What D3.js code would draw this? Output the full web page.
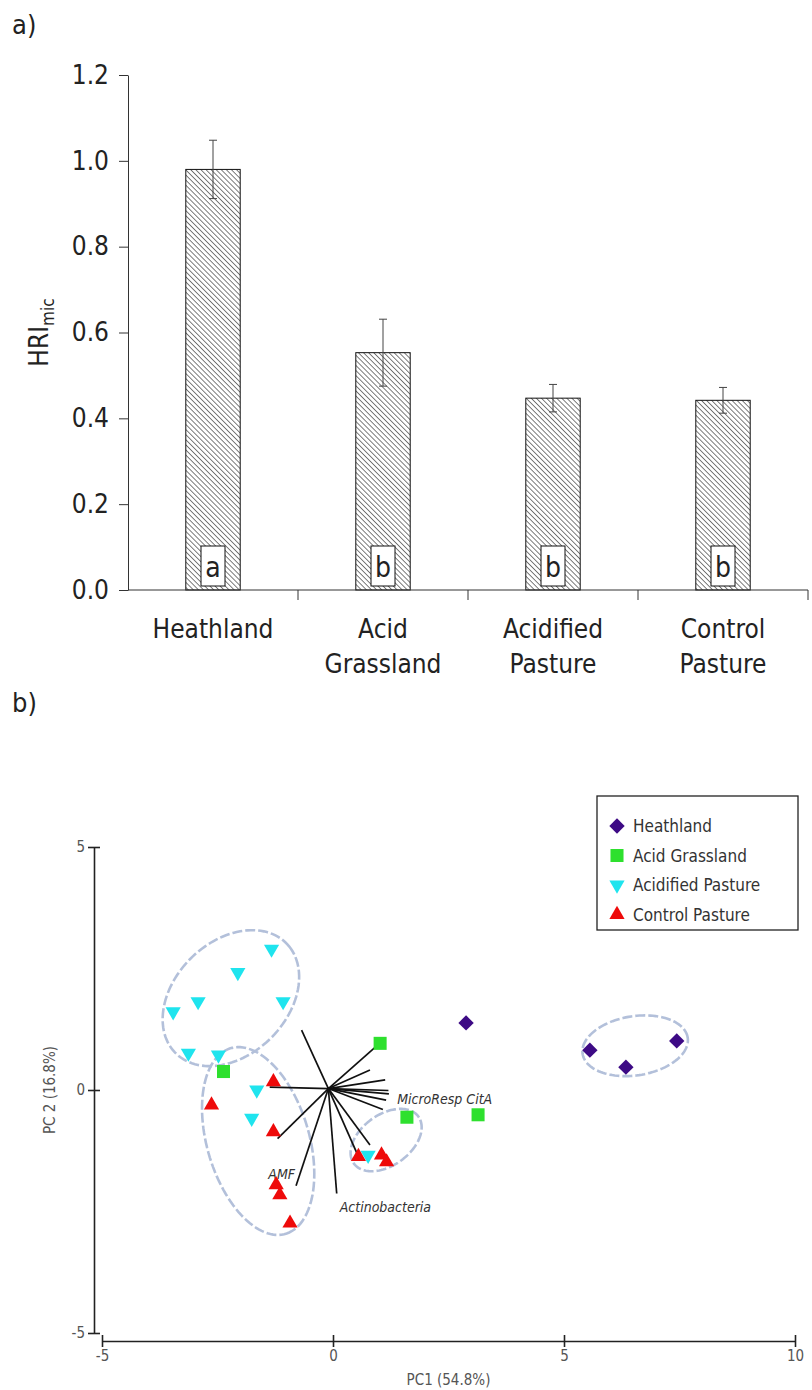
<!DOCTYPE html>
<html>
<head>
<meta charset="utf-8">
<script src="https://cdn.jsdelivr.net/npm/d3@7"></script>
<style>
  body { margin: 0; background: #fff; }
  svg text { font-family: "DejaVu Sans Condensed", "DejaVu Sans", "Open Sans", sans-serif; font-stretch: condensed; }
</style>
</head>
<body>
<svg id="fig" width="812" height="1390"></svg>
<script>
// ---- panel a: HRI mic per site
var sites = ["Heathland", "Acid Grassland", "Acidified Pasture", "Control Pasture"];
var siteLines = [["Heathland"], ["Acid", "Grassland"], ["Acidified", "Pasture"], ["Control", "Pasture"]];
var hriMean = [0.98, 0.553, 0.447, 0.442];
var hriErr = [0.068, 0.078, 0.032, 0.03];
var sigLetters = ["a", "b", "b", "b"];
var yTicksA = [0, 0.2, 0.4, 0.6, 0.8, 1.0, 1.2];

// ---- panel b: PCA scores
var heathPts = [[2.88, 1.38], [5.56, 0.82], [6.34, 0.47], [7.44, 1.01]];
var acidGrassPts = [[-2.37, 0.38], [1.02, 0.96], [1.6, -0.56], [3.14, -0.51]];
var acidifiedPts = [[-1.33, 2.9], [-2.06, 2.42], [-1.08, 1.82], [-2.92, 1.82], [-3.46, 1.61],
                    [-3.13, 0.76], [-2.48, 0.72], [-1.65, 0.0], [-1.76, -0.58], [0.76, -1.34]];
var controlPts = [[-1.29, 0.17], [-2.63, -0.31], [-1.29, -0.86], [0.55, -1.37], [1.05, -1.34],
                  [1.16, -1.48], [-1.23, -1.95], [-1.15, -2.16], [-0.93, -2.74]];
var xTicksB = [-5, 0, 5, 10];
var yTicksB = [-5, 0, 5];

// loading vectors (end points), drawn from the biplot origin
var biplotOrigin = [-0.1, 0.03];
var loadX = [-0.68, 1.13, 0.8, 1.13, 1.2, 1.21, 1.15, 1.08, -1.37, -1.2, -0.8, 0.08, 0.55, 0.8];
var loadY = [1.23, 1.06, 0.41, 0.21, -0.01, -0.08, -0.21, -0.4, 0.06, -1.0, -1.97, -2.13, -1.37, -1.13];
var loadNames = ["", "", "", "", "", "", "MicroResp CitA", "", "", "", "AMF", "Actinobacteria", "", ""];

// cluster ellipses (data units)
var ellCx = [-2.21, -1.62, 1.15, 6.54];
var ellCy = [1.89, -1.05, -1.03, 0.91];
var ellRx = [1.65, 2.0, 0.85, 1.15];
var ellRy = [1.19, 1.1, 0.53, 0.61];
var ellAng = [40, -72, 33, 8];

var svg = d3.select("#fig");
var ink = "#222";
var hyphen = function (d) { return String(d).replace("\u2212", "-"); };

// hatch pattern for bars
var defs = svg.append("defs");
defs.append("pattern")
    .attr("id", "hatch")
    .attr("patternUnits", "userSpaceOnUse")
    .attr("width", 3.6).attr("height", 3.6)
    .attr("patternTransform", "rotate(-45)")
  .append("line")
    .attr("x1", 0).attr("y1", 0).attr("x2", 0).attr("y2", 3.6)
    .attr("stroke", "#111").attr("stroke-width", 1.1);

// ================= panel a =================
svg.append("text").attr("x", 12).attr("y", 34).attr("font-size", 27).attr("fill", ink).text("a)");

var xA = d3.scaleBand().domain(sites).range([128, 808]).paddingInner(0.68).paddingOuter(0.34);
var yA = d3.scaleLinear().domain([0, 1.2]).range([590, 75]);

var gyA = svg.append("g").attr("transform", "translate(128,0)")
  .call(d3.axisLeft(yA).tickValues(yTicksA).tickFormat(d3.format(".1f")).tickSize(9).tickSizeOuter(0));
gyA.select(".domain").attr("stroke", "#333");
gyA.selectAll(".tick line").attr("stroke", "#333");
gyA.selectAll(".tick text").attr("font-size", 26).attr("fill", ink).attr("x", -19)
  .attr("font-family", null);

// y label HRI_mic
var yl = svg.append("text")
  .attr("transform", "translate(48," + yA(0.6) + ") rotate(-90)")
  .attr("text-anchor", "middle").attr("font-size", 26).attr("fill", ink);
yl.append("tspan").text("HRI");
yl.append("tspan").attr("font-size", 17).attr("dy", 6).text("mic");

// bars
var bars = svg.append("g");
sites.forEach(function (s, i) {
  var x0 = xA(s), bw = xA.bandwidth(), cx = x0 + bw / 2;
  bars.append("rect").attr("x", x0).attr("y", yA(hriMean[i])).attr("width", bw)
    .attr("height", yA(0) - yA(hriMean[i])).attr("fill", "url(#hatch)").attr("stroke", "#111").attr("stroke-width", 1);
  // error bar
  bars.append("line").attr("x1", cx).attr("x2", cx)
    .attr("y1", yA(hriMean[i] + hriErr[i])).attr("y2", yA(hriMean[i] - hriErr[i]))
    .attr("stroke", "#444").attr("stroke-width", 1);
  [hriMean[i] + hriErr[i], hriMean[i] - hriErr[i]].forEach(function (v) {
    bars.append("line").attr("x1", cx - 4).attr("x2", cx + 4).attr("y1", yA(v)).attr("y2", yA(v))
      .attr("stroke", "#444").attr("stroke-width", 1);
  });
  // letter box
  bars.append("rect").attr("x", cx - 12).attr("y", yA(0) - 44).attr("width", 24).attr("height", 40)
    .attr("fill", "#fff").attr("stroke", "#111").attr("stroke-width", 1);
  bars.append("text").attr("x", cx).attr("y", yA(0) - 13).attr("text-anchor", "middle")
    .attr("font-size", 28).attr("fill", ink).text(sigLetters[i]);
});

// x axis a
var step = xA.step();
svg.append("line").attr("x1", 128).attr("x2", 808).attr("y1", yA(0)).attr("y2", yA(0)).attr("stroke", "#333");
sites.forEach(function (s, i) {
  var bx = xA(s) + xA.bandwidth() / 2 + step / 2;
  svg.append("line").attr("x1", bx).attr("x2", bx).attr("y1", yA(0)).attr("y2", yA(0) + 10).attr("stroke", "#333");
  var t = svg.append("text").attr("x", xA(s) + xA.bandwidth() / 2).attr("y", yA(0) + 48)
    .attr("text-anchor", "middle").attr("font-size", 26).attr("fill", ink);
  siteLines[i].forEach(function (ln, j) {
    t.append("tspan").attr("x", xA(s) + xA.bandwidth() / 2).attr("dy", j === 0 ? 0 : 35).text(ln);
  });
});

// ================= panel b =================
svg.append("text").attr("x", 12).attr("y", 712).attr("font-size", 27).attr("fill", ink).text("b)");

var xB = d3.scaleLinear().domain([-5, 10]).range([102, 795]);
var yB = d3.scaleLinear().domain([-5, 5]).range([1333, 847]);
var grey = "#555";

var gyB = svg.append("g").attr("transform", "translate(94,0)")
  .call(d3.axisLeft(yB).tickValues(yTicksB).tickFormat(hyphen).tickSize(6).tickSizeOuter(0));
gyB.select(".domain").attr("stroke", "#222").attr("stroke-width", 1.6);
gyB.selectAll(".tick line").attr("x1", 6).attr("stroke", "#222").attr("stroke-width", 1.6);
gyB.selectAll(".tick text").attr("font-size", 15).attr("fill", grey).attr("x", -9).attr("font-family", null);

var gxB = svg.append("g").attr("transform", "translate(0,1341)")
  .call(d3.axisBottom(xB).tickValues(xTicksB).tickFormat(hyphen).tickSize(6).tickSizeOuter(0));
gxB.select(".domain").attr("stroke", "#222").attr("stroke-width", 1.6);
gxB.selectAll(".tick line").attr("y1", -6).attr("stroke", "#222").attr("stroke-width", 1.6);
gxB.selectAll(".tick text").attr("font-size", 15).attr("fill", grey).attr("y", 9).attr("font-family", null);

svg.append("text").attr("x", xB(2.5)).attr("y", 1385).attr("text-anchor", "middle")
  .attr("font-size", 15).attr("fill", grey).text("PC1 (54.8%)");
svg.append("text").attr("transform", "translate(55," + yB(0) + ") rotate(-90)")
  .attr("text-anchor", "middle").attr("font-size", 15).attr("fill", grey).text("PC 2 (16.8%)");

// ellipses
var ellLine = d3.line().curve(d3.curveLinearClosed);
ellCx.forEach(function (cx, i) {
  var a = ellAng[i] * Math.PI / 180;
  var pts = d3.range(0, 360, 3).map(function (deg) {
    var t = deg * Math.PI / 180;
    var dx = ellRx[i] * Math.cos(t), dy = ellRy[i] * Math.sin(t);
    return [xB(cx + dx * Math.cos(a) - dy * Math.sin(a)), yB(ellCy[i] + dx * Math.sin(a) + dy * Math.cos(a))];
  });
  svg.append("path").attr("d", ellLine(pts)).attr("fill", "none")
    .attr("stroke", "#b3c0da").attr("stroke-width", 2.6).attr("stroke-dasharray", "10,3");
});

// loading vectors
var ox = xB(biplotOrigin[0]), oy = yB(biplotOrigin[1]);
loadX.forEach(function (lx, i) {
  svg.append("line").attr("x1", ox).attr("y1", oy).attr("x2", xB(lx)).attr("y2", yB(loadY[i]))
    .attr("stroke", "#111").attr("stroke-width", 1.7);
});
var lbl = svg.append("g").attr("font-size", 14).attr("font-style", "italic").attr("fill", "#333");
lbl.append("text").attr("x", xB(loadX[6]) + 11).attr("y", yB(loadY[6]) + 4).text(loadNames[6]);
lbl.append("text").attr("x", xB(loadX[10]) - 1).attr("y", yB(loadY[10]) - 7).attr("text-anchor", "end").text(loadNames[10]);
lbl.append("text").attr("x", xB(loadX[11]) + 3).attr("y", yB(loadY[11]) + 18).text(loadNames[11]);

// markers
var groups = [
  { pts: heathPts, color: "#3d0a85", sym: d3.symbolSquare, size: 118, rot: 45 },
  { pts: acidGrassPts, color: "#2ee02e", sym: d3.symbolSquare, size: 170, rot: 0 },
  { pts: acidifiedPts, color: "#1fe4ee", sym: d3.symbolTriangle, size: 100, rot: 180 },
  { pts: controlPts, color: "#ee0a0a", sym: d3.symbolTriangle, size: 100, rot: 0 }
];
groups.forEach(function (g) {
  svg.append("g").selectAll("path").data(g.pts).enter().append("path")
    .attr("d", d3.symbol().type(g.sym).size(g.size))
    .attr("transform", function (d) { return "translate(" + xB(d[0]) + "," + yB(d[1]) + ") rotate(" + g.rot + ")"; })
    .attr("fill", g.color);
});

// legend
var lg = svg.append("g");
lg.append("rect").attr("x", 597).attr("y", 796).attr("width", 201).attr("height", 134)
  .attr("fill", "#fff").attr("stroke", "#222").attr("stroke-width", 1.3);
sites.forEach(function (s, i) {
  var y = 826 + i * 29.5;
  lg.append("path").attr("d", d3.symbol().type(groups[i].sym).size(groups[i].size))
    .attr("transform", "translate(617," + y + ") rotate(" + groups[i].rot + ")").attr("fill", groups[i].color);
  lg.append("text").attr("x", 633).attr("y", y + 6).attr("font-size", 17).attr("fill", "#333").text(s);
});
</script>
</body>
</html>
